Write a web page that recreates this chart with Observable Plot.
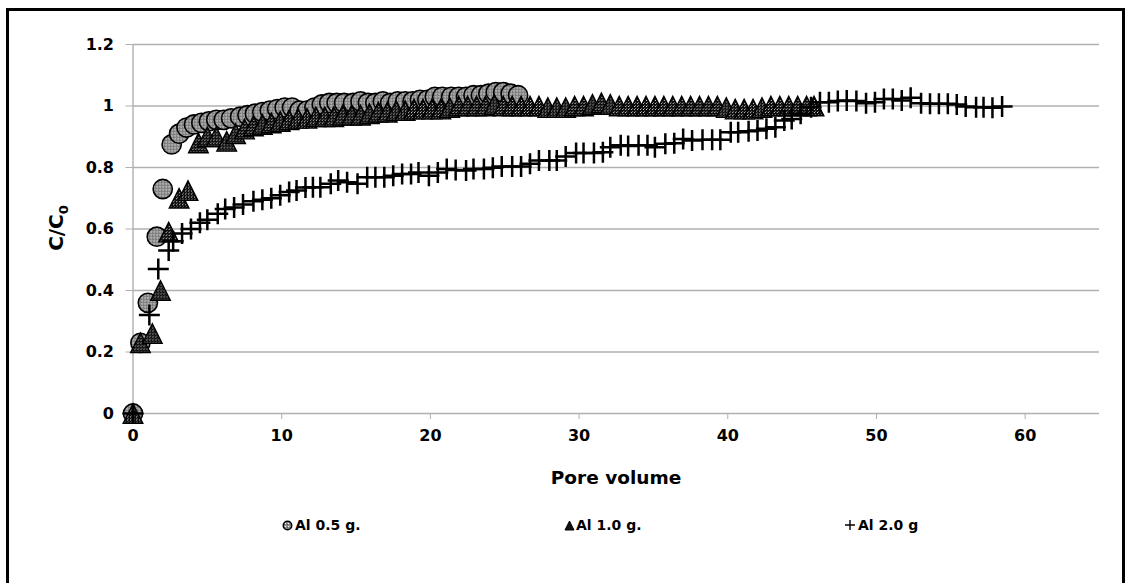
<!DOCTYPE html>
<html><head><meta charset="utf-8">
<script src="https://cdn.jsdelivr.net/npm/d3@7"></script>
<script src="https://cdn.jsdelivr.net/npm/@observablehq/plot@0.6"></script>
<style>
body{margin:0;background:#fff;font-family:"DejaVu Sans",sans-serif;overflow:hidden;}
#frame{position:absolute;left:6px;top:8px;width:1119px;height:700px;border:3px solid #000;border-bottom:none;box-sizing:border-box;}
#chart{position:absolute;left:0;top:0;}
.t{position:absolute;font-weight:bold;color:#000;white-space:nowrap;}
#xtitle{left:0;width:1232px;text-align:center;top:467px;font-size:18.5px;}
#ytitle{left:57px;top:228px;font-size:20px;transform:translate(-50%,-50%) rotate(-90deg);}
.item{position:absolute;top:517px;font-size:14px;font-weight:bold;display:flex;align-items:center;white-space:nowrap;}
</style></head><body>
<svg width="0" height="0" style="position:absolute">
<defs>
<pattern id="pc" width="3" height="3" patternUnits="userSpaceOnUse"><rect width="3" height="3" fill="#8c8c8c"/><rect x="0" y="0" width="1" height="1" fill="#fff"/><rect x="2" y="1" width="1" height="1" fill="#555"/></pattern>
<pattern id="pt" width="3" height="3" patternUnits="userSpaceOnUse"><rect width="3" height="3" fill="#0d0d0d"/><rect x="0" y="0" width="1" height="1" fill="#cfcfcf"/><rect x="1" y="2" width="1" height="1" fill="#777"/></pattern>
</defs></svg>
<div id="frame"></div>
<div id="chart"></div>
<div class="t" id="xtitle">Pore volume</div>
<div class="t" id="ytitle">C/C<sub style="font-size:13px">0</sub></div>
<div id="legend"></div>
<script>
// ---- data ----
const seriesNames = ["Al 0.5 g.", "Al 1.0 g.", "Al 2.0 g"];
const al05X = [0,0.5,1.0,1.6,2.0,2.6,3.1,3.6,4.1,4.6,5.1,5.6,6.1,6.6,7.2,7.7,8.2,8.7,9.2,9.7,10.2,10.7,11.2,11.7,12.2,12.7,13.2,13.7,14.2,14.8,15.3,15.8,16.3,16.8,17.3,17.8,18.3,18.8,19.3,19.8,20.3,20.8,21.4,21.9,22.4,22.9,23.4,23.9,24.4,24.9,25.4,25.9];
const al05Y = [0,0.23,0.36,0.575,0.73,0.875,0.91,0.93,0.94,0.945,0.95,0.955,0.955,0.96,0.965,0.97,0.975,0.98,0.985,0.99,0.995,0.995,0.985,0.985,0.995,1.005,1.01,1.01,1.01,1.01,1.015,1.01,1.01,1.015,1.01,1.015,1.015,1.015,1.02,1.02,1.03,1.03,1.03,1.03,1.03,1.035,1.035,1.04,1.045,1.045,1.04,1.035];
const al10X = [0,0.5,1.3,1.85,2.4,3.1,3.7,4.4,5.0,5.6,6.3,6.9,7.5,8.1,8.7,9.3,9.9,10.5,11.1,11.7,12.3,12.9,13.5,14.1,14.7,15.3,15.9,16.5,17.1,17.7,18.3,18.9,19.5,20.1,20.7,21.3,21.9,22.5,23.1,23.7,24.3,24.9,25.5,26.1,26.7,27.3,27.9,28.5,29.1,29.7,30.3,30.9,31.5,32.1,32.7,33.3,33.9,34.5,35.1,35.7,36.3,36.9,37.5,38.1,38.7,39.3,39.9,40.5,41.1,41.7,42.3,42.9,43.5,44.1,44.7,45.3,45.8];
const al10Y = [0,0.23,0.26,0.40,0.59,0.70,0.725,0.88,0.9,0.9,0.885,0.91,0.925,0.935,0.94,0.945,0.95,0.955,0.96,0.96,0.965,0.965,0.965,0.97,0.97,0.97,0.975,0.98,0.98,0.985,0.985,0.99,0.99,0.99,0.99,0.995,1.0,1.0,1.0,1.0,1.005,1.0,1.0,1.0,1.0,1.0,0.995,0.995,0.995,1.0,1.0,1.005,1.01,1.005,1.0,1.0,1.0,1.0,1.0,1.0,1.0,1.0,1.0,1.0,1.0,1.0,0.995,0.99,0.99,0.99,0.995,1.0,1.0,1.0,1.0,1.0,1.0];
const al20X = [0,1.1,1.7,2.4,2.7,3.3,3.9,4.5,5.0,5.7,6.2,6.8,7.4,8.1,8.7,9.3,9.9,10.5,11.0,11.6,12.1,12.6,13.3,13.8,14.4,15.1,15.75,16.3,16.9,17.5,18.1,18.7,19.2,19.9,20.5,21.1,21.7,22.4,22.9,23.6,24.2,24.8,25.5,26.1,26.7,27.3,28.0,28.5,29.1,29.8,30.3,31.0,31.6,32.1,32.8,33.3,34.0,34.6,35.1,35.8,36.4,37.0,37.6,38.3,38.95,39.5,40.2,40.7,41.4,42.0,42.6,43.2,43.8,44.3,44.9,45.6,46.2,46.8,47.4,48.0,48.65,49.3,49.9,50.5,51.1,51.7,52.3,53.0,53.6,54.2,54.8,55.4,56.0,56.7,57.2,57.8,58.45];
const al20Y = [0,0.32,0.47,0.53,0.56,0.585,0.60,0.62,0.63,0.65,0.665,0.67,0.68,0.69,0.695,0.70,0.71,0.72,0.725,0.735,0.736,0.736,0.747,0.758,0.752,0.747,0.768,0.768,0.768,0.773,0.779,0.779,0.784,0.773,0.784,0.795,0.792,0.79,0.795,0.795,0.799,0.803,0.803,0.803,0.812,0.823,0.823,0.823,0.836,0.847,0.847,0.847,0.85,0.866,0.872,0.87,0.872,0.872,0.866,0.877,0.879,0.893,0.888,0.89,0.89,0.89,0.915,0.915,0.918,0.92,0.926,0.931,0.953,0.958,0.975,0.996,1.012,1.012,1.016,1.018,1.016,1.009,1.012,1.023,1.023,1.018,1.027,1.009,1.007,1.007,1.007,1.005,0.998,0.996,0.996,0.994,0.998];
const xTicks = [0,10,20,30,40,50,60];
const xLabels = ["0","10","20","30","40","50","60"];
const yTicks = [0,0.2,0.4,0.6,0.8,1,1.2];
const yLabels = ["0","0.2","0.4","0.6","0.8","1","1.2"];

const pts = (xs, ys) => xs.slice(0, Math.min(xs.length, ys.length)).map((x, i) => ({x, y: ys[i]}));
const d05 = pts(al05X, al05Y), d10 = pts(al10X, al10Y), d20 = pts(al20X, al20Y);

const tri = {draw(ctx, size){const r = Math.sqrt(size/Math.PI); ctx.moveTo(0,-r); ctx.lineTo(r,r); ctx.lineTo(-r,r); ctx.closePath();}};
const plus = {draw(ctx, size){const r = Math.sqrt(size/Math.PI); ctx.moveTo(-r,0); ctx.lineTo(r,0); ctx.moveTo(0,-r); ctx.lineTo(0,r);}};

const W = 1131, H = 460;
const chart = Plot.plot({
  width: W, height: H,
  marginLeft: 132.5, marginRight: 32, marginTop: 44, marginBottom: 47,
  style: {fontFamily: "DejaVu Sans", fontSize: "15px", fontWeight: "bold", color: "#000", background: "transparent"},
  x: {domain: [0, 65]},
  y: {domain: [0, 1.2]},
  marks: [
    Plot.ruleY(yTicks, {stroke: "#b0b0b0", strokeWidth: 1.4}),
    Plot.ruleX([0], {stroke: "#b0b0b0", strokeWidth: 1.4}),
    Plot.axisY({ticks: yTicks, tickFormat: (d) => yLabels[yTicks.indexOf(d)], tickSize: 7, tickPadding: 12, stroke: "#b0b0b0", fill: "#000", fontSize: 16, fontWeight: "bold", label: null}),
    Plot.axisX({ticks: xTicks, tickFormat: d => xLabels[xTicks.indexOf(d)], tickSize: 6, tickPadding: 10, stroke: "#b0b0b0", fill: "#000", fontSize: 16, fontWeight: "bold", label: null}),
    Plot.dot(d05, {x: "x", y: "y", r: 9.6, fill: "url(#pc)", stroke: "#000", strokeWidth: 1.6}),
    Plot.dot(d10, {x: "x", y: "y", r: 9.8, symbol: tri, fill: "url(#pt)", stroke: "#000", strokeWidth: 1.4}),
    Plot.dot(d20, {x: "x", y: "y", r: 10.5, symbol: plus, fill: "none", stroke: "#000", strokeWidth: 2.5})
  ]
});
document.getElementById("chart").appendChild(chart);

// legend
const legend = document.getElementById("legend");
const lx = [282, 564, 844];
const markers = [
  '<svg width="11" height="11" style="margin-right:2px"><circle cx="5.5" cy="5.5" r="4.3" fill="url(#pc)" stroke="#000" stroke-width="1.4"/></svg>',
  '<svg width="11" height="11" style="margin-right:1px"><path d="M5.5,1 L10,10 L1,10 Z" fill="#111" stroke="#000" stroke-width="1"/></svg>',
  '<svg width="12" height="12" style="margin-right:2px"><path d="M1,6 H11 M6,1 V11" stroke="#000" stroke-width="1.4" fill="none"/></svg>'
];
seriesNames.forEach((name, i) => {
  const d = document.createElement("div");
  d.className = "item";
  d.style.left = lx[i] + "px";
  d.innerHTML = markers[i] + "<span>" + name + "</span>";
  legend.appendChild(d);
});
</script>
</body></html>
